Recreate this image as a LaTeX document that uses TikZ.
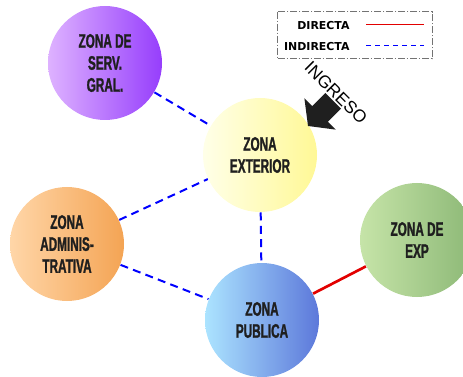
\documentclass[tikz,border=0pt]{standalone}
\usepackage{fontspec}
\setmainfont{Liberation Sans}
\newfontfamily\zonafont{Liberation Sans}[FakeStretch=0.6, FakeBold=1.2]
\newfontfamily\leyfont{DejaVu Sans}

\definecolor{servL}{RGB}{222,178,255}
\definecolor{servR}{RGB}{150,62,252}
\definecolor{extL}{RGB}{255,255,232}
\definecolor{extR}{RGB}{255,248,150}
\definecolor{admL}{RGB}{255,214,168}
\definecolor{admR}{RGB}{244,164,84}
\definecolor{pubL}{RGB}{172,228,255}
\definecolor{pubR}{RGB}{92,120,218}
\definecolor{expL}{RGB}{198,228,168}
\definecolor{expR}{RGB}{140,184,118}
\definecolor{azul}{RGB}{0,0,255}
\definecolor{rojo}{RGB}{226,0,0}

\tikzset{every picture/.style={line width=0.75pt}}
\tikzset{
	zona/.style={circle, minimum size=85.5pt, inner sep=0pt, align=center, text=black!88,
		font=\zonafont\bfseries\fontsize{14.7}{16.5}\selectfont},
	indirecta/.style={draw=azul, line width=1.5pt, dash pattern=on 6pt off 4pt},
	directa/.style={draw=rojo, line width=2pt},
	leyenda/.style={anchor=base east, inner sep=0pt, font=\leyfont\bfseries\fontsize{8.2}{10}\selectfont},
}

\begin{document}
\begin{tikzpicture}[x=0.75pt,y=0.75pt,yscale=-1,xscale=1]
	\useasboundingbox (0,0) rectangle (463,377);
	
	%Shape: Circle [id:serv]
	\node[zona, left color=servL, right color=servR] (serv) at (105,63) {ZONA DE\\SERV.\\GRAL.};
	%Shape: Circle [id:ext]
	\node[zona, left color=extL, right color=extR] (ext) at (260,155) {ZONA\\EXTERIOR};
	%Shape: Circle [id:adm]
	\node[zona, left color=admL, right color=admR] (adm) at (67,244) {ZONA\\ADMINIS-\\TRATIVA};
	%Shape: Circle [id:pub]
	\node[zona, left color=pubL, right color=pubR] (pub) at (262,320) {ZONA\\PUBLICA};
	%Shape: Circle [id:exp]
	\node[zona, left color=expL, right color=expR] (exp) at (417,240) {ZONA DE\\EXP};
	
	%Straight Lines
	\draw[indirecta] (serv) -- (ext);
	\draw[indirecta] (adm) -- (ext);
	\draw[indirecta] (adm) -- (pub);
	\draw[indirecta] (ext) -- (pub);
	\draw[directa] (pub) -- (exp);
	
	%Shape: Arrow [id:ingreso]
	\fill[black!88] (308,126) -- (335.6,129.6) -- (327.8,121.8) -- (341,108.6) -- (325.4,93) -- (312.2,106.2) -- (304.4,98.4) -- cycle;
	% Text Node
	\node[rotate=-45, font=\fontsize{13}{13}\selectfont] (ingreso) at (336,93) {INGRESO};
	
	%Shape: Rectangle [id:leyenda]
	\draw[black!55, dash pattern=on 5pt off 1.5pt on 1pt off 1.5pt] (277,12) rectangle (432,59);
	\coordinate (dirA) at (366,24.7);
	\coordinate (dirB) at (424,24.7);
	\coordinate (indA) at (366,45.7);
	\coordinate (indB) at (424,45.7);
	\draw[draw=rojo, line width=1.1pt] (dirA) -- (dirB);
	\draw[draw=azul, line width=1.1pt, dash pattern=on 3.8pt off 3pt] (indA) -- (indB);
	% Text Node
	\node[leyenda] (directa) at (350,29.3) {DIRECTA};
	% Text Node
	\node[leyenda] (indirecta) at (350,50.5) {INDIRECTA};
	
\end{tikzpicture}
\end{document}
